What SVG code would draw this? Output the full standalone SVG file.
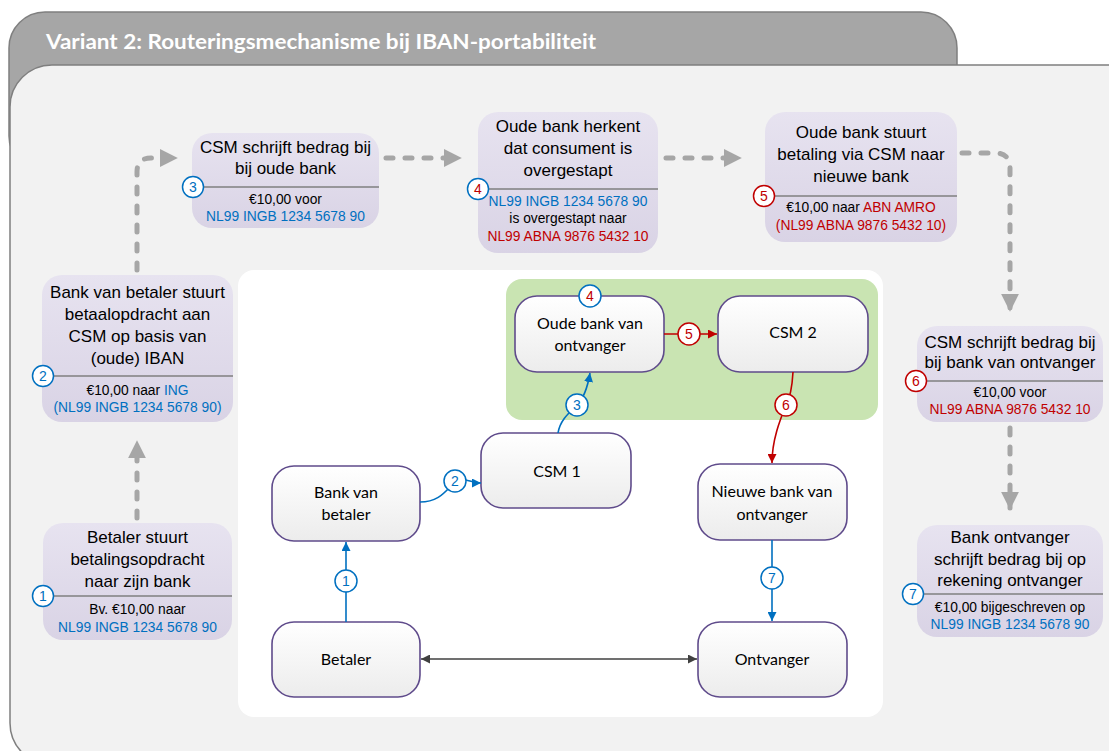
<svg xmlns="http://www.w3.org/2000/svg" width="1109" height="751" viewBox="0 0 1109 751">
<defs>
<linearGradient id="lav" x1="0" y1="0" x2="0" y2="1"><stop offset="0" stop-color="#e7e3f0"/><stop offset="1" stop-color="#d9d3e5"/></linearGradient>
<linearGradient id="nodeg" x1="0" y1="0" x2="0" y2="1"><stop offset="0" stop-color="#ffffff"/><stop offset="1" stop-color="#ececec"/></linearGradient>
<marker id="ab" viewBox="0 0 10 10" refX="10" refY="5" markerWidth="9" markerHeight="9" markerUnits="userSpaceOnUse" orient="auto"><path d="M0,0 L10,5 L0,10 z" fill="#0070c0"/></marker>
<marker id="ar" viewBox="0 0 10 10" refX="10" refY="5" markerWidth="9" markerHeight="9" markerUnits="userSpaceOnUse" orient="auto"><path d="M0,0 L10,5 L0,10 z" fill="#c00000"/></marker>
<marker id="ak" viewBox="0 0 10 10" refX="10" refY="5" markerWidth="9" markerHeight="9" markerUnits="userSpaceOnUse" orient="auto-start-reverse"><path d="M0,0 L10,5 L0,10 z" fill="#404040"/></marker>
<marker id="ag" viewBox="0 0 10 10" refX="9" refY="5" markerWidth="18" markerHeight="18" markerUnits="userSpaceOnUse" orient="auto"><path d="M0,0 L10,5 L0,10 z" fill="#a6a6a6"/></marker>
<style>
.flow{fill:url(#lav)}
.div{stroke:#7f7f7f;stroke-width:1.5}
.t{font-family:"Liberation Sans",Arial,sans-serif;font-size:17px;fill:#000;text-anchor:middle}
.s{font-family:"Liberation Sans",Arial,sans-serif;font-size:13.8px;fill:#000;text-anchor:middle}
.b{fill:#0070c0}
.r{fill:#c00000}
.cb{fill:#fff;stroke:#0070c0;stroke-width:1.5}
.cr{fill:#fff;stroke:#c00000;stroke-width:1.5}
.n{font-family:"Liberation Sans",Arial,sans-serif;font-size:14px;text-anchor:middle}
.node{fill:url(#nodeg);stroke:#5f4b8b;stroke-width:1.6}
.nt{font-family:Lato,"Open Sans",sans-serif;font-size:16px;fill:#000;text-anchor:middle}
.dash{fill:none;stroke:#a6a6a6;stroke-width:5;stroke-linecap:round;stroke-dasharray:7 12}
.lb{fill:none;stroke:#0070c0;stroke-width:1.6}
.lr{fill:none;stroke:#c00000;stroke-width:1.6}
</style>
</defs>
<!-- frame -->
<rect x="9" y="12" width="948" height="160" rx="36" fill="#a6a6a6" stroke="#7f7f7f" stroke-width="1.5"/>
<rect x="10" y="65" width="1140" height="700" rx="42" fill="#f2f2f2" stroke="#7f7f7f" stroke-width="1.5"/>
<text x="46" y="49" font-family="Lato,'Open Sans',sans-serif" font-weight="bold" font-size="20" fill="#fff" textLength="550" lengthAdjust="spacingAndGlyphs">Variant 2: Routeringsmechanisme bij IBAN-portabiliteit</text>
<rect x="238" y="270" width="645" height="447" rx="16" fill="#fff"/>
<rect x="506" y="279" width="372" height="141" rx="16" fill="#c9e4b2"/>

<!-- dashed flow connectors -->
<g id="flow-connectors">
<path class="dash" d="M137,518 V442" marker-end="url(#ag)"/>
<path class="dash" d="M137,270 V172 Q137,158 151,158 H176" marker-end="url(#ag)"/>
<path class="dash" d="M386,158 H460" marker-end="url(#ag)"/>
<path class="dash" d="M666,158 H740" marker-end="url(#ag)"/>
<path class="dash" d="M962,153 H995 Q1010,153 1010,168 V310" marker-end="url(#ag)"/>
<path class="dash" d="M1010,428 V508" marker-end="url(#ag)"/>
</g>

<!-- flow boxes -->
<g id="step1">
<rect class="flow" x="43" y="523" width="189" height="117" rx="20"/>
<text class="t" x="137.5" y="543">Betaler stuurt</text>
<text class="t" x="137.5" y="565">betalingsopdracht</text>
<text class="t" x="137.5" y="587">naar zijn bank</text>
<line class="div" x1="43" y1="596" x2="232" y2="596"/>
<text class="s" x="137.5" y="614">Bv. €10,00 naar</text>
<text class="s b" x="137.5" y="632">NL99 INGB 1234 5678 90</text>
<circle class="cb" cx="43" cy="596" r="10.5"/><text class="n b" x="43" y="601">1</text>
</g>
<g id="step2">
<rect class="flow" x="42" y="275" width="191" height="147" rx="20"/>
<text class="t" x="137.5" y="298">Bank van betaler stuurt</text>
<text class="t" x="137.5" y="320">betaalopdracht aan</text>
<text class="t" x="137.5" y="342">CSM op basis van</text>
<text class="t" x="137.5" y="364">(oude) IBAN</text>
<line class="div" x1="43" y1="376" x2="233" y2="376"/>
<text class="s" x="137.5" y="395">€10,00 naar <tspan class="b">ING</tspan></text>
<text class="s b" x="137.5" y="412">(NL99 INGB 1234 5678 90)</text>
<circle class="cb" cx="43" cy="376" r="10.5"/><text class="n b" x="43" y="381">2</text>
</g>
<g id="step3">
<rect class="flow" x="192" y="133" width="187" height="95" rx="20"/>
<text class="t" x="285.5" y="153">CSM schrijft bedrag bij</text>
<text class="t" x="285.5" y="174">bij oude bank</text>
<line class="div" x1="193" y1="187" x2="379" y2="187"/>
<text class="s" x="285.5" y="204">€10,00 voor</text>
<text class="s b" x="285.5" y="221">NL99 INGB 1234 5678 90</text>
<circle class="cb" cx="193" cy="187" r="10.5"/><text class="n b" x="193" y="192">3</text>
</g>
<g id="step4">
<rect class="flow" x="478" y="112" width="180" height="141" rx="20"/>
<text class="t" x="568" y="132">Oude bank herkent</text>
<text class="t" x="568" y="154">dat consument is</text>
<text class="t" x="568" y="176">overgestapt</text>
<line class="div" x1="478" y1="189" x2="658" y2="189"/>
<text class="s b" x="568" y="206">NL99 INGB 1234 5678 90</text>
<text class="s" x="568" y="223">is overgestapt naar</text>
<text class="s r" x="568" y="241">NL99 ABNA 9876 5432 10</text>
<circle class="cb" cx="478" cy="189" r="10.5"/><text class="n r" x="478" y="194">4</text>
</g>
<g id="step5">
<rect class="flow" x="765" y="112" width="192" height="130" rx="20"/>
<text class="t" x="861" y="138">Oude bank stuurt</text>
<text class="t" x="861" y="160">betaling via CSM naar</text>
<text class="t" x="861" y="182">nieuwe bank</text>
<line class="div" x1="765" y1="196" x2="957" y2="196"/>
<text class="s" x="861" y="212">€10,00 naar <tspan class="r">ABN AMRO</tspan></text>
<text class="s r" x="861" y="230">(NL99 ABNA 9876 5432 10)</text>
<circle class="cr" cx="764" cy="196" r="10.5"/><text class="n r" x="764" y="201">5</text>
</g>
<g id="step6">
<rect class="flow" x="917" y="326" width="186" height="96" rx="20"/>
<text class="t" x="1010" y="348">CSM schrijft bedrag bij</text>
<text class="t" x="1010" y="368">bij bank van ontvanger</text>
<line class="div" x1="916" y1="381" x2="1103" y2="381"/>
<text class="s" x="1010" y="397">€10,00 voor</text>
<text class="s r" x="1010" y="414">NL99 ABNA 9876 5432 10</text>
<circle class="cr" cx="916" cy="381" r="10.5"/><text class="n r" x="916" y="386">6</text>
</g>
<g id="step7">
<rect class="flow" x="917" y="525" width="186" height="112" rx="20"/>
<text class="t" x="1010" y="543">Bank ontvanger</text>
<text class="t" x="1010" y="565">schrijft bedrag bij op</text>
<text class="t" x="1010" y="586">rekening ontvanger</text>
<line class="div" x1="913" y1="594" x2="1103" y2="594"/>
<text class="s" x="1010" y="612">€10,00 bijgeschreven op</text>
<text class="s b" x="1010" y="629">NL99 INGB 1234 5678 90</text>
<circle class="cb" cx="913" cy="594" r="10.5"/><text class="n b" x="913" y="599">7</text>
</g>

<!-- center nodes -->
<g id="oude-bank"><rect class="node" x="515" y="296" width="149" height="76" rx="22"/><text class="nt" x="590" y="329">Oude bank van</text><text class="nt" x="590" y="351">ontvanger</text></g>
<g id="csm2"><rect class="node" x="718" y="296" width="150" height="76" rx="22"/><text class="nt" x="793" y="338">CSM 2</text></g>
<g id="csm1"><rect class="node" x="481" y="433" width="150" height="75" rx="22"/><text class="nt" x="557" y="477">CSM 1</text></g>
<g id="bank-betaler"><rect class="node" x="272" y="466" width="148" height="75" rx="22"/><text class="nt" x="346" y="498">Bank van</text><text class="nt" x="346" y="520">betaler</text></g>
<g id="nieuwe-bank"><rect class="node" x="698" y="464" width="149" height="76" rx="22"/><text class="nt" x="772" y="497">Nieuwe bank van</text><text class="nt" x="772" y="520">ontvanger</text></g>
<g id="betaler"><rect class="node" x="272" y="622" width="148" height="75" rx="22"/><text class="nt" x="346" y="665">Betaler</text></g>
<g id="ontvanger"><rect class="node" x="698" y="622" width="149" height="75" rx="22"/><text class="nt" x="772" y="665">Ontvanger</text></g>

<!-- center connectors -->
<g id="connectors">
<path class="lb" d="M346,622 V542" marker-end="url(#ab)"/>
<path class="lb" d="M420,502 C440,502 446,490 455,482 C463,476 470,483 481,483" marker-end="url(#ab)"/>
<path class="lb" d="M558,433 C560,420 570,412 577,405 C585,397 588,385 590,373" marker-end="url(#ab)"/>
<path class="lr" d="M664,334 H717" marker-end="url(#ar)"/>
<path class="lr" d="M793,372 C792,390 790,398 786,405 C780,420 772,440 772,463" marker-end="url(#ar)"/>
<path class="lb" d="M772,540 V621" marker-end="url(#ab)"/>
<path fill="none" stroke="#404040" stroke-width="1.6" d="M421,659 H697" marker-start="url(#ak)" marker-end="url(#ak)"/>
<circle class="cb" cx="346" cy="581" r="11"/><text class="n b" x="346" y="586">1</text>
<circle class="cb" cx="455" cy="481" r="11"/><text class="n b" x="455" y="486">2</text>
<circle class="cb" cx="577" cy="405" r="11"/><text class="n b" x="577" y="410">3</text>
<circle class="cb" cx="590" cy="296" r="11"/><text class="n r" x="590" y="301">4</text>
<circle class="cr" cx="689" cy="334" r="11"/><text class="n r" x="689" y="339">5</text>
<circle class="cr" cx="786" cy="405" r="11"/><text class="n r" x="786" y="410">6</text>
<circle class="cb" cx="772" cy="578" r="11"/><text class="n b" x="772" y="583">7</text>
</g>
</svg>
